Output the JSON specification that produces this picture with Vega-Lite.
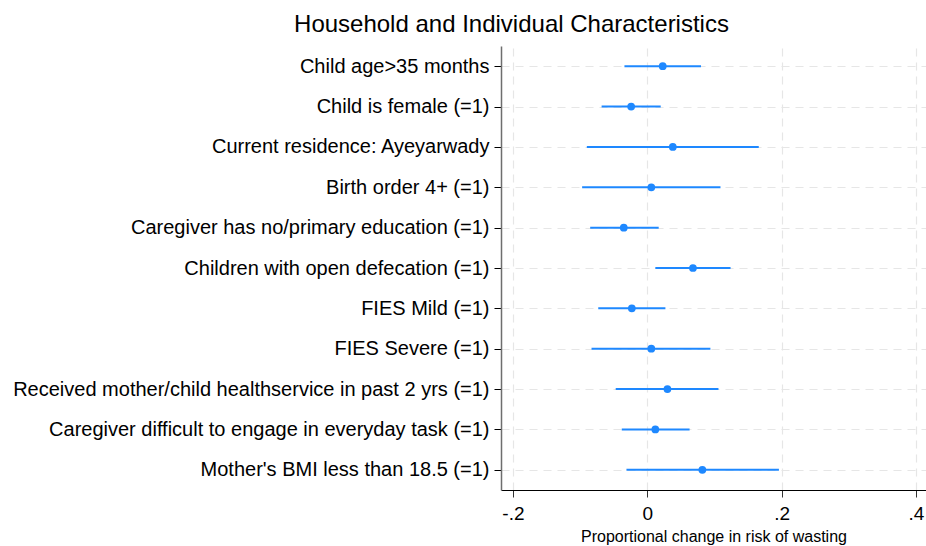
{
  "$schema": "https://vega.github.io/schema/vega-lite/v6.json",
  "autosize": "none",
  "width": 425,
  "height": 444,
  "padding": {"left": 501, "top": 46, "right": 0, "bottom": 56},
  "background": "white",
  "config": {
    "font": "Liberation Sans",
    "view": {"stroke": null}
  },
  "title": {
    "text": "Household and Individual Characteristics",
    "font": "Liberation Sans",
    "fontSize": 24,
    "fontWeight": "normal",
    "color": "#000000",
    "anchor": "middle",
    "dx": -202,
    "offset": 9
  },
  "data": {
    "values": [
      {"label": "Child age>35 months", "est": 0.023, "lo": -0.034, "hi": 0.080},
      {"label": "Child is female (=1)", "est": -0.024, "lo": -0.068, "hi": 0.020},
      {"label": "Current residence: Ayeyarwady", "est": 0.038, "lo": -0.090, "hi": 0.166},
      {"label": "Birth order 4+ (=1)", "est": 0.006, "lo": -0.097, "hi": 0.109},
      {"label": "Caregiver has no/primary education (=1)", "est": -0.035, "lo": -0.085, "hi": 0.017},
      {"label": "Children with open defecation (=1)", "est": 0.068, "lo": 0.012, "hi": 0.124},
      {"label": "FIES Mild (=1)", "est": -0.023, "lo": -0.073, "hi": 0.027},
      {"label": "FIES Severe (=1)", "est": 0.006, "lo": -0.083, "hi": 0.094},
      {"label": "Received mother/child healthservice in past 2 yrs (=1)", "est": 0.030, "lo": -0.047, "hi": 0.106},
      {"label": "Caregiver difficult to engage in everyday task (=1)", "est": 0.012, "lo": -0.038, "hi": 0.063},
      {"label": "Mother's BMI less than 18.5 (=1)", "est": 0.082, "lo": -0.031, "hi": 0.196}
    ]
  },
  "encoding": {
    "y": {
      "field": "label",
      "type": "nominal",
      "sort": null,
      "scale": {"type": "point", "padding": 0.5},
      "axis": {
        "title": null,
        "labelFont": "Liberation Sans",
        "labelFontSize": 20,
        "labelColor": "#000000",
        "labelPadding": 5,
        "labelLimit": 600,
        "domainColor": "#6e6e6e",
        "domainWidth": 1.5,
        "tickColor": "#000000",
        "tickSize": 7,
        "tickWidth": 1,
        "grid": true,
        "gridColor": "#e6e6e6",
        "gridDash": [8, 6],
        "gridWidth": 1.2
      }
    }
  },
  "layer": [
    {
      "mark": {"type": "rule", "color": "#1e88ff", "strokeWidth": 2},
      "encoding": {
        "x": {
          "field": "lo",
          "type": "quantitative",
          "scale": {"domain": [-0.2178, 0.415], "nice": false, "zero": false},
          "axis": {
            "title": "Proportional change in risk of wasting",
            "titleFont": "Liberation Sans",
            "titleFontSize": 16,
            "titleFontWeight": "normal",
            "titleColor": "#000000",
            "titlePadding": 5,
            "values": [-0.2, 0, 0.2, 0.4],
            "labelExpr": "datum.value == 0 ? '0' : (datum.value < 0 ? '-' : '') + '.' + round(abs(datum.value) * 10)",
            "labelFont": "Liberation Sans",
            "labelFontSize": 19,
            "labelColor": "#000000",
            "labelPadding": 7,
            "labelFlush": false,
            "domainColor": "#000000",
            "domainWidth": 1.2,
            "tickColor": "#333333",
            "tickSize": 7,
            "grid": true,
            "gridColor": "#e6e6e6",
            "gridDash": [8, 6],
            "gridWidth": 1.2
          }
        },
        "x2": {"field": "hi"}
      }
    },
    {
      "mark": {"type": "rule", "color": "#000000", "strokeWidth": 1.5, "strokeDash": [11, 5]},
      "encoding": {"x": {"datum": 0, "type": "quantitative"}}
    },
    {
      "mark": {"type": "point", "filled": true, "opacity": 1, "color": "#1e88ff", "size": 60},
      "encoding": {"x": {"field": "est", "type": "quantitative"}}
    }
  ]
}
